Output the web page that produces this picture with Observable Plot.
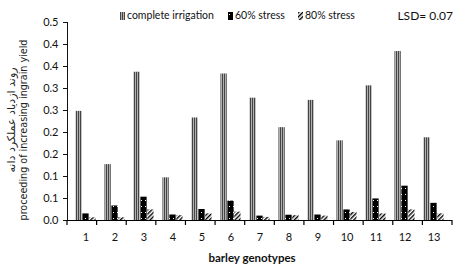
<!DOCTYPE html>
<html>
<head>
<meta charset="utf-8">
<script src="https://cdn.jsdelivr.net/npm/d3@7"></script>
<script src="https://cdn.jsdelivr.net/npm/@observablehq/plot@0.6"></script>
<style>
  body { margin: 0; background: #fff; }
  #wrap { position: relative; width: 457px; height: 269px; overflow: hidden; font-family: Lato, "Open Sans", sans-serif; }
  .leg { position: absolute; top: 9px; font-size: 10.5px; color: #111; white-space: nowrap; line-height: 13px; }
  .leg svg { vertical-align: -1px; margin-right: 2px; }
</style>
</head>
<body>
<div id="wrap"></div>
<script>
const genotypes = ["1","2","3","4","5","6","7","8","9","10","11","12","13"];
const seriesNames = ["complete irrigation", "60% stress", "80% stress"];
const completeIrrigation = [0.248, 0.127, 0.337, 0.097, 0.233, 0.333, 0.278, 0.211, 0.273, 0.181, 0.306, 0.384, 0.188];
const stress60 = [0.015, 0.033, 0.053, 0.0125, 0.025, 0.044, 0.010, 0.012, 0.0125, 0.024, 0.049, 0.078, 0.039];
const stress80 = [0.006, 0.006, 0.024, 0.011, 0.015, 0.019, 0.007, 0.011, 0.010, 0.018, 0.015, 0.024, 0.015];
const yTicks = [0, 0.05, 0.10, 0.15, 0.20, 0.25, 0.30, 0.35, 0.40, 0.45];
const yTickLabels = ["0.0","0.1","0.1","0.2","0.2","0.3","0.3","0.4","0.4","0.5"];
const lsdText = "LSD= 0.07";
const xTitle = "barley genotypes";
const yTitleFa = "روند ازدیاد عملکرد دانه";
const yTitleEn = "proceeding of increasing ingrain yield";

const W = 457, H = 269, mL = 67, mR = 5, mT = 22, mB = 49;
const step = (W - mL - mR) / genotypes.length;
const barW = 6.9;
const pad = (step - 3 * barW) / 2;

const fills = ["url(#pComplete)", "url(#p60)", "url(#p80)"];
const seriesVals = [completeIrrigation, stress60, stress80];
const marks = [];
seriesVals.forEach((vals, i) => {
  const data = genotypes.map((g, j) => ({g, v: vals[j]}));
  marks.push(Plot.barY(data, {
    x: "g", y: "v", fill: fills[i],
    insetLeft: pad + i * barW,
    insetRight: step - pad - (i + 1) * barW
  }));
});
marks.push(Plot.ruleY([0], {stroke: "#000", strokeWidth: 1.2}));

const plot = Plot.plot({
  width: W, height: H,
  marginLeft: mL, marginRight: mR, marginTop: mT, marginBottom: mB,
  style: {fontFamily: "Lato, 'Open Sans', sans-serif", fontSize: "11px", color: "#111", background: "#fff"},
  x: {domain: genotypes, padding: 0, tickSize: 0, tickPadding: 13, label: null},
  y: {domain: [0, 0.45], ticks: yTicks, tickFormat: (d) => yTickLabels[yTicks.indexOf(d)], tickSize: 4, tickPadding: 5, line: true, label: null},
  marks
});

const svgNS = "http://www.w3.org/2000/svg";
const defs = document.createElementNS(svgNS, "defs");
defs.innerHTML = `
<pattern id="pComplete" patternUnits="userSpaceOnUse" width="2" height="4">
  <rect width="2" height="4" fill="#b0b0b0"/><rect width="1" height="4" fill="#444"/>
</pattern>
<pattern id="p60" patternUnits="userSpaceOnUse" width="4" height="6">
  <rect width="4" height="6" fill="#000"/><rect x="1" y="2" width="1" height="1" fill="#fff"/>
</pattern>
<pattern id="p80" patternUnits="userSpaceOnUse" width="3" height="3" patternTransform="rotate(45)">
  <rect width="3" height="3" fill="#fff"/><rect width="1.4" height="3" fill="#000"/>
</pattern>`;
plot.insertBefore(defs, plot.firstChild);

const svg = d3.select(plot);
const xb = d3.scaleBand().domain(genotypes).range([mL, W - mR]);
const bounds = genotypes.map(g => xb(g)).concat([W - mR]);
svg.append("g").selectAll("line").data(bounds).join("line")
  .attr("x1", d => d).attr("x2", d => d)
  .attr("y1", H - mB).attr("y2", H - mB + 5)
  .attr("stroke", "#000").attr("stroke-width", 1.2);

svg.append("text").text(xTitle)
  .attr("x", 252).attr("y", 262)
  .attr("text-anchor", "middle").attr("font-weight", "bold").attr("font-size", 11.5).attr("fill", "#111");

svg.append("text").text(yTitleFa)
  .attr("transform", "translate(15,120) rotate(-90)")
  .attr("text-anchor", "middle").attr("font-family", "'DejaVu Sans', sans-serif").attr("font-size", 11).attr("fill", "#222");
svg.append("text").text(yTitleEn)
  .attr("transform", "translate(27,130) rotate(-90)")
  .attr("text-anchor", "middle").attr("font-family", "'DejaVu Sans', sans-serif").attr("font-size", 9.6).attr("fill", "#222");

const wrap = document.getElementById("wrap");
wrap.appendChild(plot);

const legPos = [120, 228, 298];
seriesNames.forEach((name, i) => {
  const div = document.createElement("div");
  div.className = "leg";
  div.style.left = legPos[i] + "px";
  div.innerHTML = `<svg width="5" height="8"><rect width="5" height="8" fill="${fills[i]}"/></svg>`;
  div.appendChild(document.createTextNode(name));
  wrap.appendChild(div);
});
const lsd = document.createElement("div");
lsd.className = "leg";
lsd.style.right = "4px";
lsd.style.fontSize = "12px";
lsd.textContent = lsdText;
wrap.appendChild(lsd);
</script>
</body>
</html>
